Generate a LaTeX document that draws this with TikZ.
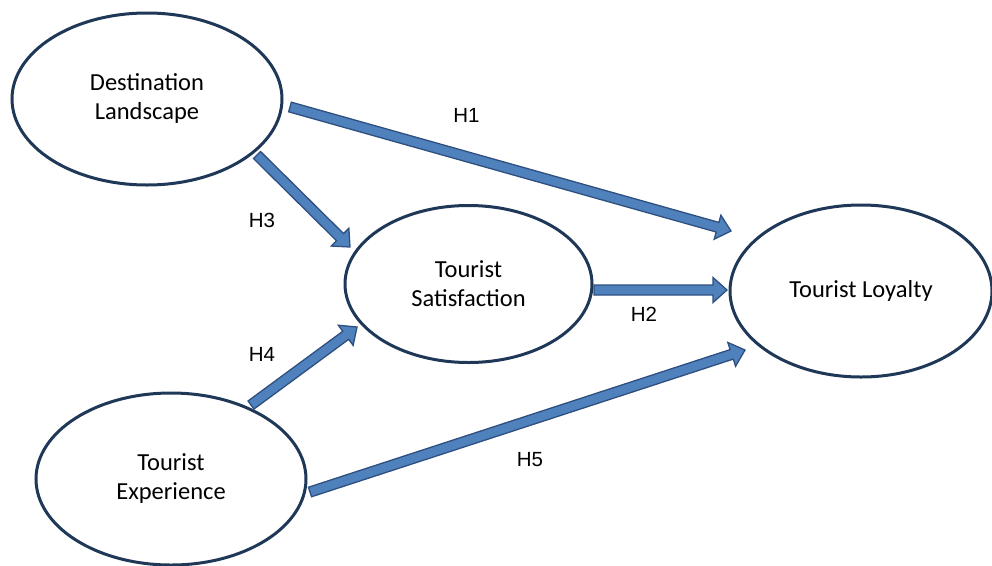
\documentclass[tikz,border=0pt]{standalone}
\usepackage{fontspec}
\setmainfont{Carlito}
\newfontfamily\labelfont{Liberation Sans}
\usetikzlibrary{shapes.geometric,calc}
\definecolor{arrowfill}{HTML}{4F81BD}
\definecolor{arrowline}{HTML}{2F4F7F}
\definecolor{ellline}{HTML}{1F3857}
\tikzset{
  construct/.style={draw=ellline, line width=3pt, ellipse, inner sep=0pt, fill=white,
    align=center, font=\fontsize{24.5}{29}\selectfont},
  hlabel/.style={inner sep=0pt, font=\labelfont\fontsize{20.5}{22}\selectfont},
  blockarrow/.style={fill=arrowfill, draw=arrowline, line width=1.3pt, line join=miter}
}
\newcommand\blkarrow[2]{%
  \coordinate (bah) at ($(#2)!14pt!(#1)$);
  \draw[blockarrow]
    ($(#1)!5pt!90:(#2)$) -- ($(bah)!5pt!90:(#2)$) -- ($(bah)!12.5pt!90:(#2)$) --
    (#2) -- ($(bah)!12.5pt!-90:(#2)$) -- ($(bah)!5pt!-90:(#2)$) --
    ($(#1)!5pt!-90:(#2)$) -- cycle;
}
\begin{document}
\begin{tikzpicture}[x=1pt,y=-1pt]
\useasboundingbox (0,0) rectangle (992,565);
\node[construct, minimum width=270pt, minimum height=172pt] (dl) at (147,99) {Destination\\Landscape};
\node[construct, minimum width=247pt, minimum height=157pt] (ts) at (468.5,284) {Tourist\\Satisfaction};
\node[construct, minimum width=262pt, minimum height=172pt] (tl) at (861,291) {Tourist Loyalty};
\node[construct, minimum width=270pt, minimum height=172pt] (te) at (171,479) {Tourist\\Experience};

\coordinate (h1s) at (290,107);
\coordinate (h1e) at (731,231);
\coordinate (h3s) at (257,155);
\coordinate (h3e) at (350,247);
\coordinate (h2s) at (594,290);
\coordinate (h2e) at (727,290);
\coordinate (h4s) at (251,405);
\coordinate (h4e) at (357,327);
\coordinate (h5s) at (310,492);
\coordinate (h5e) at (745,350);

\blkarrow{h1s}{h1e}
\blkarrow{h3s}{h3e}
\blkarrow{h2s}{h2e}
\blkarrow{h4s}{h4e}
\blkarrow{h5s}{h5e}

\node[hlabel] (l1) at (466.5,115.5) {H1};
\node[hlabel] (l3) at (262,220.5) {H3};
\node[hlabel] (l2) at (644,314.5) {H2};
\node[hlabel] (l4) at (262,354) {H4};
\node[hlabel] (l5) at (530,459.5) {H5};
\end{tikzpicture}
\end{document}
